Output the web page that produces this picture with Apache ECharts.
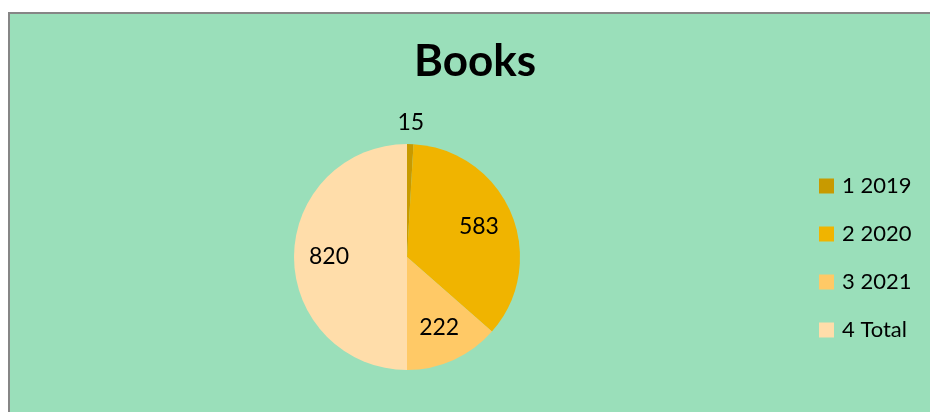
<!DOCTYPE html>
<html>
<head>
<meta charset="utf-8">
<script src="https://cdn.jsdelivr.net/npm/echarts@6/dist/echarts.min.js"></script>
<style>
  html, body { margin: 0; padding: 0; background: #ffffff; overflow: hidden; }
  #bg {
    position: absolute; left: 8px; top: 12px; width: 940px; height: 420px;
    background: #9ADFBA; border-left: 2px solid #868686; border-top: 2px solid #868686;
  }
  #chart { position: absolute; left: 0; top: 0; width: 930px; height: 412px; }
</style>
</head>
<body>
<div id="bg"></div>
<div id="chart"></div>
<script>
const categories = ['1 2019', '2 2020', '3 2021', '4 Total']
const values = [15, 583, 222, 820]
const colors = ['#C89A00', '#F0B400', '#FFC966', '#FFDDAA']

const FONT = 'Lato'
const center = [407, 257]

const pieData = categories.map((name, i) => ({
    name: name,
    value: values[i],
    itemStyle: {color: colors[i]}
}))

// transparent copies of the pie, only used to place the value labels
const labelRing = (radius, show) => ({
    type: 'pie',
    center: center,
    radius: [0, radius],
    startAngle: 90,
    silent: true,
    legendHoverLink: false,
    emphasis: {disabled: true},
    itemStyle: {color: 'transparent', borderWidth: 0},
    labelLine: {show: false},
    label: {position: 'inner', formatter: '{c}', fontFamily: FONT, fontSize: 23, color: '#000'},
    data: categories.map((name, i) => ({
        name: name,
        value: values[i],
        label: {show: show(i)}
    }))
})

const chart = echarts.init(document.getElementById('chart'))
chart.setOption({
    animation: false,
    title: {
        text: 'Books',
        left: 475,
        top: 40,
        textAlign: 'center',
        padding: 0,
        textStyle: {fontFamily: FONT, fontSize: 44, fontWeight: 'bold', color: '#000'}
    },
    legend: {
        orient: 'vertical',
        left: 819,
        top: 175,
        padding: 0,
        itemWidth: 15,
        itemHeight: 15,
        itemGap: 26,
        icon: 'rect',
        data: categories,
        textStyle: {fontFamily: FONT, fontSize: 22, color: '#000', padding: [0, 0, 0, 3]}
    },
    series: [
        {
            type: 'pie',
            center: center,
            radius: [0, 113],
            startAngle: 90,
            label: {show: false},
            labelLine: {show: false},
            itemStyle: {borderWidth: 0},
            data: pieData
        },
        labelRing(150, i => i > 0),
        labelRing(262, i => i === 0)
    ]
})
</script>
</body>
</html>
